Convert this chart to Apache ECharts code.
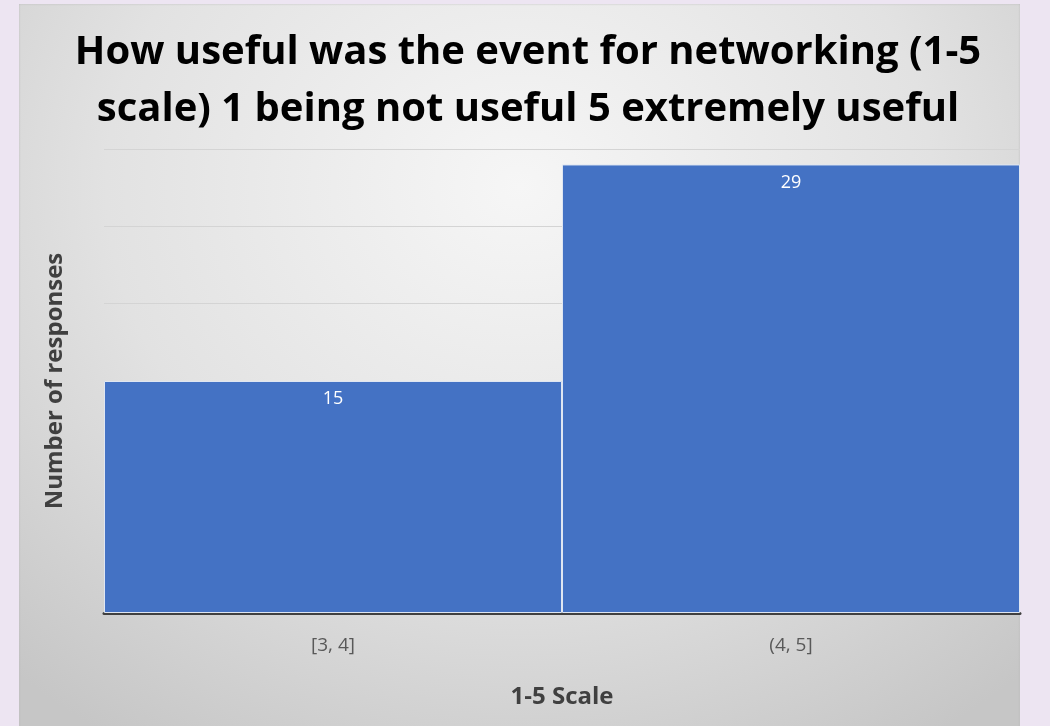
<!DOCTYPE html>
<html>
<head>
<meta charset="utf-8">
<script src="https://cdn.jsdelivr.net/npm/echarts@6/dist/echarts.min.js"></script>
<style>
    html, body { margin: 0; padding: 0; width: 1050px; height: 726px; background: #ede5f2; overflow: hidden; }
    #panel {
        position: absolute; left: 19px; top: 4px; width: 1001px; height: 730px;
        background: radial-gradient(ellipse 75% 90% at 50% 25%, #f6f6f6 0%, #e2e2e2 55%, #c6c6c6 100%);
        box-shadow: inset 0 0 2px #b5b5b5;
    }
    #container { position: absolute; left: 0; top: 0; width: 1050px; height: 726px; }
</style>
</head>
<body>
<div id="panel"></div>
<div id="container"></div>
<script>
    var categories = ['[3, 4]', '(4, 5]'];
    var responses = [15, 29];
    var yMin = 0, yMax = 30, yStep = 5;

    var chart = echarts.init(document.getElementById('container'));
    var option = {
        backgroundColor: 'transparent',
        title: {
            text: 'How useful was the event for networking (1-5\nscale) 1 being not useful 5 extremely useful',
            left: 523,
            textAlign: 'center',
            top: 19,
            textStyle: {
                fontFamily: 'Open Sans',
                fontWeight: 'bold',
                fontSize: 40,
                lineHeight: 57,
                color: '#000000'
            }
        },
        grid: {
            left: 104,
            right: 30,
            top: 149,
            bottom: 113
        },
        xAxis: {
            type: 'category',
            data: categories,
            name: '1-5 Scale',
            nameLocation: 'middle',
            nameGap: 72,
            nameTextStyle: {
                fontFamily: 'Open Sans',
                fontWeight: 'bold',
                fontSize: 24,
                color: '#404040'
            },
            axisLine: { lineStyle: { color: '#404040', width: 3 } },
            axisTick: { show: false },
            axisLabel: {
                margin: 23,
                fontFamily: 'Open Sans',
                fontSize: 19,
                color: '#595959'
            }
        },
        yAxis: {
            type: 'value',
            min: yMin,
            max: yMax,
            interval: yStep,
            name: 'Number of responses',
            nameLocation: 'middle',
            nameGap: 37,
            nameTextStyle: {
                fontFamily: 'Open Sans',
                fontWeight: 'bold',
                fontSize: 24,
                color: '#404040'
            },
            axisLine: { show: false },
            axisTick: { show: false },
            axisLabel: { show: false },
            splitLine: { lineStyle: { color: '#d4d4d4', width: 1 } }
        },
        series: [
            {
                type: 'bar',
                data: responses,
                barCategoryGap: 0,
                itemStyle: {
                    color: '#4472c4',
                    borderColor: '#dfe6f2',
                    borderWidth: 1
                },
                label: {
                    show: true,
                    position: 'insideTop',
                    distance: 9,
                    fontFamily: 'Open Sans',
                    fontSize: 18,
                    color: '#ffffff'
                }
            }
        ]
    };
    chart.setOption(option);
</script>
</body>
</html>
